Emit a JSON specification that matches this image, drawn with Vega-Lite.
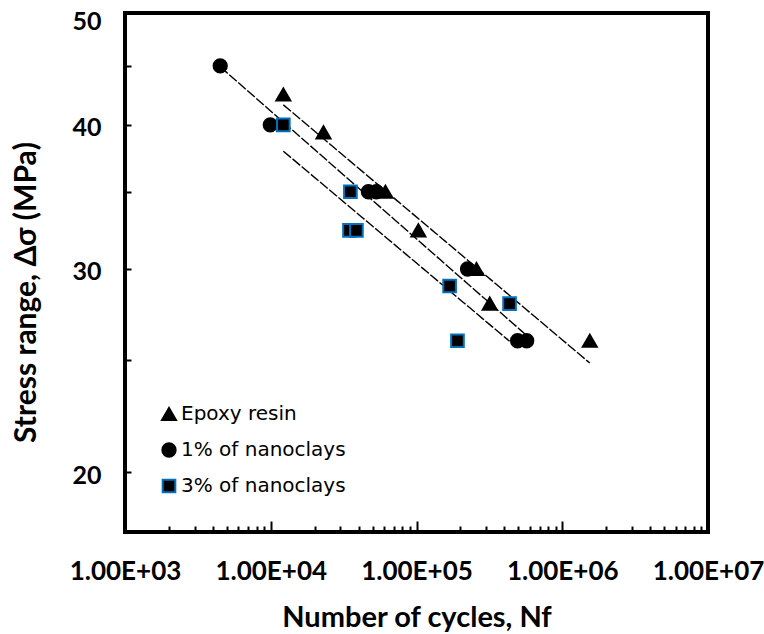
{
  "$schema": "https://vega.github.io/schema/vega-lite/v6.json",
  "width": 583,
  "height": 519,
  "autosize": {"type": "none"},
  "padding": {"left": 125, "top": 13, "right": 56, "bottom": 102},
  "background": "white",
  "config": {
    "view": {"stroke": "black", "strokeWidth": 4},
    "font": "Lato"
  },
  "data": {
    "values": [
      {"series": "Epoxy resin", "N": 12200, "S": 42.5},
      {"series": "Epoxy resin", "N": 23000, "S": 39.4},
      {"series": "Epoxy resin", "N": 61200, "S": 35},
      {"series": "Epoxy resin", "N": 103000, "S": 32.4},
      {"series": "Epoxy resin", "N": 258000, "S": 30},
      {"series": "Epoxy resin", "N": 318000, "S": 28},
      {"series": "Epoxy resin", "N": 1545000, "S": 26},
      {"series": "1% of nanoclays", "N": 4500, "S": 45},
      {"series": "1% of nanoclays", "N": 9930, "S": 40},
      {"series": "1% of nanoclays", "N": 46800, "S": 35},
      {"series": "1% of nanoclays", "N": 53000, "S": 35},
      {"series": "1% of nanoclays", "N": 224000, "S": 30},
      {"series": "1% of nanoclays", "N": 494000, "S": 26},
      {"series": "1% of nanoclays", "N": 570000, "S": 26},
      {"series": "3% of nanoclays", "N": 12200, "S": 40},
      {"series": "3% of nanoclays", "N": 35200, "S": 35},
      {"series": "3% of nanoclays", "N": 34700, "S": 32.4},
      {"series": "3% of nanoclays", "N": 38700, "S": 32.4},
      {"series": "3% of nanoclays", "N": 168700, "S": 29},
      {"series": "3% of nanoclays", "N": 191000, "S": 26},
      {"series": "3% of nanoclays", "N": 435000, "S": 28}
    ]
  },
  "encoding": {
    "x": {
      "field": "N",
      "type": "quantitative",
      "scale": {"type": "log", "domain": [1000, 10000000], "nice": false},
      "axis": {
        "values": [1000, 2000, 3000, 4000, 5000, 6000, 7000, 8000, 9000, 10000, 20000, 30000, 40000, 50000, 60000, 70000, 80000, 90000, 100000, 200000, 300000, 400000, 500000, 600000, 700000, 800000, 900000, 1000000, 2000000, 3000000, 4000000, 5000000, 6000000, 7000000, 8000000, 9000000, 10000000],
        "labelExpr": "abs(log(datum.value)/LN10 - round(log(datum.value)/LN10)) < 0.001 ? '1.00E+' + format(round(log(datum.value)/LN10), '02d') : ''",
        "tickSize": {"condition": {"test": "abs(log(datum.value)/LN10 - round(log(datum.value)/LN10)) < 0.001", "value": -11}, "value": -6},
        "tickWidth": 2,
        "tickColor": "black",
        "domain": false,
        "grid": false,
        "labelFlush": false,
        "labelOverlap": false,
        "labelBound": false,
        "labelFontSize": 26,
        "labelFontWeight": "bold",
        "labelColor": "black",
        "labelBaseline": "alphabetic",
        "labelPadding": 58,
        "title": "Number of cycles, Nf",
        "titleFontSize": 29,
        "titleFontWeight": "bold",
        "titleColor": "black",
        "titleBaseline": "alphabetic",
        "titleY": 94
      }
    },
    "y": {
      "field": "S",
      "type": "quantitative",
      "scale": {"type": "log", "domain": [17.75, 50], "nice": false},
      "axis": {
        "values": [20, 25, 30, 35, 40, 45, 50],
        "labelExpr": "datum.value % 10 == 0 ? datum.label : ''",
        "tickSize": -6,
        "tickWidth": 2,
        "tickColor": "black",
        "domain": false,
        "grid": false,
        "labelFontSize": 25,
        "labelFontWeight": "bold",
        "labelColor": "black",
        "labelPadding": 30,
        "labelOffset": {"condition": {"test": "datum.value == 50", "value": 8}, "value": 3},
        "labelFlush": false,
        "labelBound": false,
        "title": "Stress range, Δσ (MPa)",
        "titleFontSize": 30,
        "titleFontWeight": "bold",
        "titleColor": "black",
        "titleBaseline": "alphabetic",
        "titleX": -90,
        "titleY": 279,
        "titleAngle": -90,
        "titleAlign": "center"
      }
    }
  },
  "layer": [
    {
      "transform": [{"regression": "S", "on": "N", "method": "pow", "groupby": ["series"]}],
      "mark": {"type": "line", "color": "black", "strokeWidth": 1.4, "strokeDash": [10, 2]},
      "encoding": {"detail": {"field": "series"}}
    },
    {
      "mark": {"type": "point", "filled": true, "strokeWidth": 2, "opacity": 1},
      "encoding": {
        "shape": {
          "field": "series", "type": "nominal",
          "scale": {"domain": ["Epoxy resin", "1% of nanoclays", "3% of nanoclays"], "range": ["triangle-up", "circle", "square"]},
          "legend": {"title": null, "orient": "none", "legendX": 34, "legendY": 391, "labelFontSize": 20, "labelFont": "DejaVu Sans", "labelColor": "black", "labelLimit": 400, "rowPadding": 14, "labelOffset": 2, "padding": 0, "symbolStrokeWidth": 2}
        },
        "fill": {
          "field": "series", "type": "nominal",
          "scale": {"domain": ["Epoxy resin", "1% of nanoclays", "3% of nanoclays"], "range": ["black", "black", "black"]},
          "legend": {"title": null, "orient": "none", "legendX": 34, "legendY": 391, "labelFontSize": 20, "labelFont": "DejaVu Sans", "labelColor": "black", "labelLimit": 400, "rowPadding": 14, "labelOffset": 2, "padding": 0, "symbolStrokeWidth": 2}
        },
        "stroke": {
          "field": "series", "type": "nominal",
          "scale": {"domain": ["Epoxy resin", "1% of nanoclays", "3% of nanoclays"], "range": ["black", "black", "#0070C0"]},
          "legend": {"title": null, "orient": "none", "legendX": 34, "legendY": 391, "labelFontSize": 20, "labelFont": "DejaVu Sans", "labelColor": "black", "labelLimit": 400, "rowPadding": 14, "labelOffset": 2, "padding": 0, "symbolStrokeWidth": 2}
        },
        "size": {
          "field": "series", "type": "nominal",
          "scale": {"domain": ["Epoxy resin", "1% of nanoclays", "3% of nanoclays"], "range": [196, 160, 130]},
          "legend": {"title": null, "orient": "none", "legendX": 34, "legendY": 391, "labelFontSize": 20, "labelFont": "DejaVu Sans", "labelColor": "black", "labelLimit": 400, "rowPadding": 14, "labelOffset": 2, "padding": 0, "symbolStrokeWidth": 2}
        }
      }
    }
  ]
}
